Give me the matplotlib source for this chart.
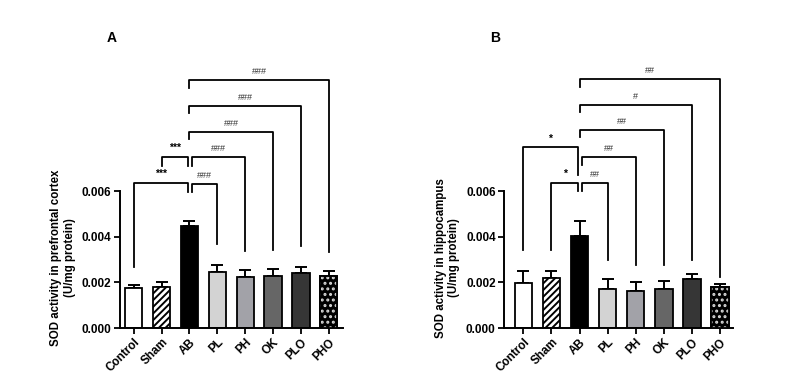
import numpy as np
import matplotlib.pyplot as plt

plt.rcParams['font.family'] = ['Liberation Sans', 'DejaVu Sans']
plt.rcParams['hatch.linewidth'] = 1.4

groups = ['Control', 'Sham', 'AB', 'PL', 'PH', 'OK', 'PLO', 'PHO']

# SOD activity (U/mg protein), mean and SEM
pfc_mean = [0.00175, 0.00181, 0.00448, 0.00247, 0.00222, 0.00229, 0.00240, 0.00228]
pfc_err = [0.00013, 0.00019, 0.00021, 0.00028, 0.00032, 0.00028, 0.00029, 0.00020]
hip_mean = [0.00197, 0.00219, 0.00403, 0.00170, 0.00162, 0.00173, 0.00215, 0.00180]
hip_err = [0.00053, 0.00031, 0.00066, 0.00045, 0.00038, 0.00032, 0.00020, 0.00011]

# comparisons: (group a, group b, label) for each panel
pfc_comp = [(0, 2, '***'), (1, 2, '***'), (2, 3, '###'), (2, 4, '###'),
            (2, 5, '###'), (2, 6, '###'), (2, 7, '###')]
hip_comp = [(0, 2, '*'), (1, 2, '*'), (2, 3, '##'), (2, 4, '##'),
            (2, 5, '##'), (2, 6, '#'), (2, 7, '##')]

# bracket top / left leg bottom / right leg bottom (data units)
pfc_br = [(0.00634, 0.00267, 0.00597), (0.00750, 0.00710, 0.00710),
          (0.00630, 0.00597, 0.00367), (0.00750, 0.00710, 0.00339),
          (0.00857, 0.00826, 0.00342), (0.00973, 0.00940, 0.00359),
          (0.01086, 0.01050, 0.00331)]
hip_br = [(0.00791, 0.00340, 0.00669), (0.00636, 0.00340, 0.00600),
          (0.00636, 0.00600, 0.00297), (0.00751, 0.00713, 0.00275),
          (0.00867, 0.00835, 0.00275), (0.00976, 0.00945, 0.00297),
          (0.01091, 0.01055, 0.00225)]

faces = ['white', 'white', 'black', '#d3d3d3', '#a2a2a8', '#666666', '#363636', 'black']
hatches = [None, '/////', None, None, None, None, None, None]


def draw_panel(ax, mean, err, comps, brs, ylabel, letter, xlim):
    x = np.arange(len(groups))
    ax.bar(x, mean, width=0.62, color=faces, edgecolor='black', linewidth=1.3,
           hatch=hatches, zorder=2)
    # white dots on the last bar
    ax.bar(x[-1], mean[-1], width=0.62, fill=False, edgecolor='#d8d8d8',
           linewidth=0, hatch='...', zorder=3)
    ax.bar(x[-1], mean[-1], width=0.62, fill=False, edgecolor='black',
           linewidth=1.3, zorder=4)
    ax.errorbar(x, mean, yerr=[np.zeros(len(x)), err], fmt='none',
                ecolor='black', elinewidth=1.4, capsize=4.5, capthick=1.4, zorder=1)

    for (a, b, lab), (top, ya, yb) in zip(comps, brs):
        xa, xb = a, b
        if b == 2:
            xb = b - 0.07
        if a == 2 and b in (3, 4):
            xa = a + 0.1
        ax.plot([xa, xa, xb, xb], [ya, top, top, yb], color='black', lw=1.3,
                clip_on=False, zorder=5)
        bold = '*' in lab
        ax.text((xa + xb) / 2, top + 0.00018, lab, ha='center', va='bottom',
                fontsize=7.5 if bold else 6.5, fontweight='bold' if bold else 'normal',
                color='black' if bold else '#333333')

    ax.set_xlim(*xlim)
    ax.set_ylim(0, 0.0112)
    ax.set_yticks([0, 0.002, 0.004, 0.006])
    ax.set_yticklabels(['0.000', '0.002', '0.004', '0.006'], fontsize=8.5, fontweight='bold')
    ax.set_xticks(x)
    ax.set_xticklabels(groups, rotation=45, ha='right', rotation_mode='anchor',
                       fontsize=8.5, fontweight='bold')
    ax.spines['top'].set_visible(False)
    ax.spines['right'].set_visible(False)
    ax.spines['left'].set_bounds(0, 0.006)
    ax.spines['left'].set_linewidth(1.4)
    ax.spines['bottom'].set_linewidth(1.4)
    ax.tick_params(width=1.3, length=4, pad=2)
    ax.set_ylabel(ylabel, fontsize=8.3, fontweight='bold', y=0.275, labelpad=4)
    ax.text(-0.06, 1.12, letter, transform=ax.transAxes, fontsize=10, fontweight='bold')


fig = plt.figure(figsize=(7.88, 3.81), dpi=100)
axA = fig.add_axes([0.152, 0.139, 0.283, 0.671])
axB = fig.add_axes([0.6396, 0.139, 0.2906, 0.671])

draw_panel(axA, pfc_mean, pfc_err, pfc_comp, pfc_br,
           'SOD activity in prefrontal cortex\n(U/mg protein)', 'A', (-0.5, 7.5))
draw_panel(axB, hip_mean, hip_err, hip_comp, hip_br,
           'SOD activity in hippocampus\n(U/mg protein)', 'B', (-0.69, 7.46))

fig.savefig('out.png', dpi=100)
